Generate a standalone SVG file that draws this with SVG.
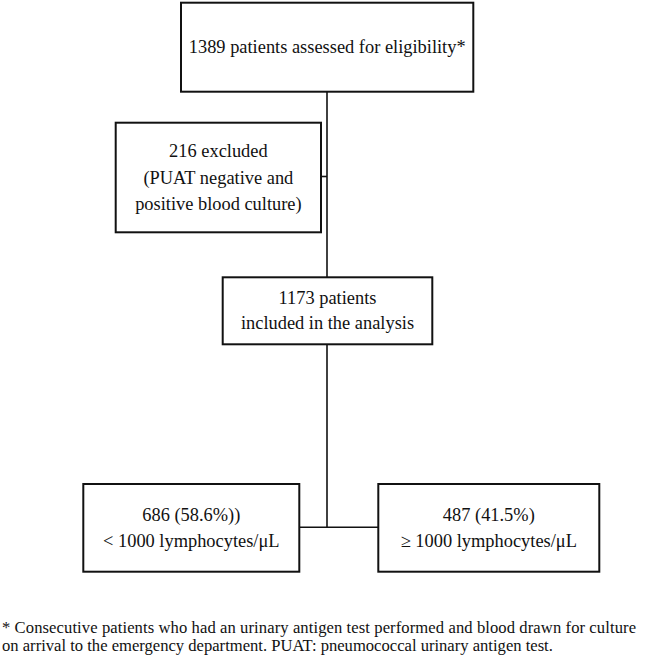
<svg xmlns="http://www.w3.org/2000/svg" width="646" height="658" viewBox="0 0 646 658" font-family="'Liberation Serif', 'DejaVu Serif', serif">
<style>
.box{fill:#fff;stroke:#111;stroke-width:2}
.ln{fill:none;stroke:#111;stroke-width:1.6}
text{font-family:'Liberation Serif','DejaVu Serif',serif;font-size:18.4px;fill:#111;text-anchor:middle}
text.fn{font-size:16.6px;text-anchor:start}
</style>
<rect width="646" height="658" fill="#fff"/>
<g id="connectors">
<path class="ln" d="M327,91.7V277.3"/>
<path class="ln" d="M321,176.5H327"/>
<path class="ln" d="M327,344.3V527.3"/>
<path class="ln" d="M299.3,527.3H378.3"/>
</g>
<g id="assessed">
<rect class="box" x="181" y="2.7" width="292.3" height="89"/>
<text x="327.2" y="53">1389 patients assessed for eligibility*</text>
</g>
<g id="excluded">
<rect class="box" x="115.7" y="122.7" width="205.3" height="109.6"/>
<text x="218.4" y="157">216 excluded</text>
<text x="218.4" y="183.5">(PUAT negative and</text>
<text x="218.4" y="210">positive blood culture)</text>
</g>
<g id="included">
<rect class="box" x="222.7" y="277.3" width="209.6" height="67"/>
<text x="327.5" y="304">1173 patients</text>
<text x="327.5" y="329">included in the analysis</text>
</g>
<g id="low">
<rect class="box" x="83.3" y="484" width="216" height="87.7"/>
<text x="191.3" y="520.5">686 (58.6%))</text>
<text x="191.3" y="546.5">&lt; 1000 lymphocytes/μL</text>
</g>
<g id="high">
<rect class="box" x="378.3" y="484" width="221" height="87.7"/>
<text x="488.8" y="520.5">487 (41.5%)</text>
<text x="488.8" y="546.5">≥ 1000 lymphocytes/μL</text>
</g>
<g id="footnote">
<text class="fn" x="2" y="633" textLength="634" lengthAdjust="spacing">* Consecutive patients who had an urinary antigen test performed and blood drawn for culture</text>
<text class="fn" x="2" y="650.5">on arrival to the emergency department. PUAT: pneumococcal urinary antigen test.</text>
</g>
</svg>
